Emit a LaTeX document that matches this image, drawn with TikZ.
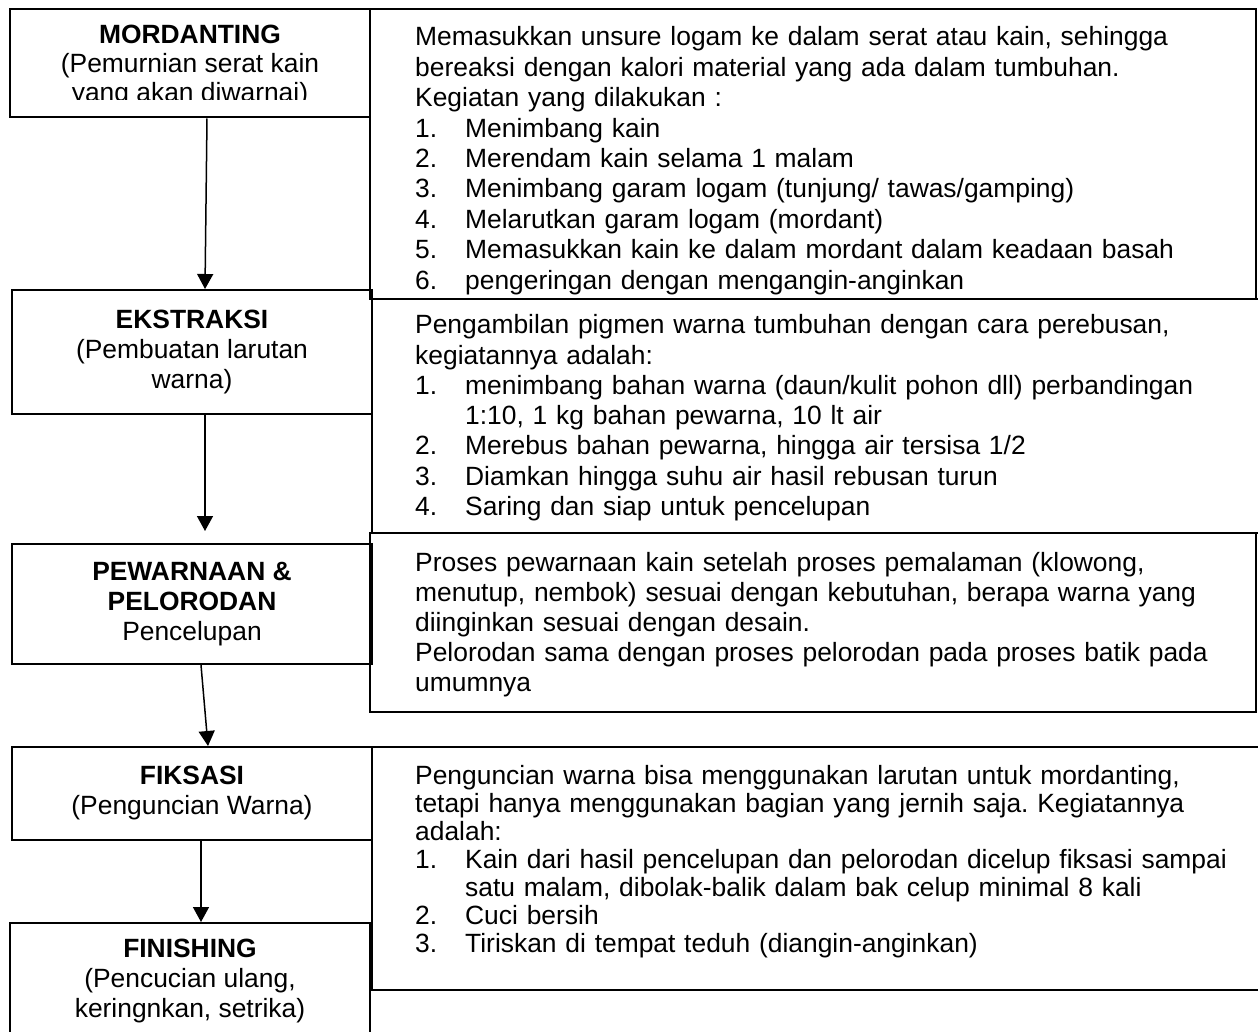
\documentclass[tikz,border=0pt]{standalone}
\usepackage{fontspec}
\setmainfont{Liberation Sans}
\usepackage{tikz}
\usetikzlibrary{arrows.meta,positioning,calc}

\newcommand{\itemnr}[1]{\makebox[50pt][l]{#1}}
\frenchspacing

\tikzset{
  stepbox/.style={draw,line width=2pt,align=center,minimum width=360pt,inner sep=0pt,
    font=\fontsize{26.4}{30}\selectfont},
  infobox/.style={draw,line width=2pt},
  infotext/.style={anchor=base west,align=left,inner sep=0pt,text width=840pt},
  flow/.style={-{Triangle[width=16pt,length=15pt]},line width=1.5pt}
}

\begin{document}
\begin{tikzpicture}[x=1pt,y=-1pt]
\useasboundingbox (0,0) rectangle (1258,1032);

% Right side boxes
\draw[infobox] (370,9) rectangle (1256,299);
\draw[infobox] (372,299) rectangle (1270,533);
\draw[infobox] (370,533) rectangle (1256,712);
\draw[infobox] (372,747) rectangle (1270,990);

% Steps
\node[stepbox,minimum height=108pt,text depth=0pt,font=\fontsize{26.4}{29}\selectfont] (mord) at (190,63.5)
  {\textbf{MORDANTING}\\(Pemurnian serat kain\\yang akan diwarnai)};
\fill[white] (11,100) rectangle (369,116);
\node[stepbox,minimum height=124pt] (ekstr) at (192,352)
  {\textbf{EKSTRAKSI}\\(Pembuatan larutan\\warna)};
\node[stepbox,minimum height=120pt] (warna) at (192,604)
  {\textbf{PEWARNAAN \&}\\\textbf{PELORODAN}\\Pencelupan};
\node[stepbox,minimum height=93pt] (fiks) at (192,793.5)
  {\textbf{FIKSASI}\\(Penguncian Warna)};
\node[stepbox,minimum height=117pt] (finish) at (190,981.5)
  {\textbf{FINISHING}\\(Pencucian ulang,\\keringnkan, setrika)};

% Flow arrows
\draw[flow] ([xshift=17pt]mord.south) -- ([xshift=13pt]ekstr.north);
\draw[flow] ([xshift=13pt]ekstr.south) -- ([xshift=13pt,yshift=12pt]warna.north);
\draw[flow] ([xshift=9pt]warna.south) -- ([xshift=16pt]fiks.north);
\draw[flow] ([xshift=9pt]fiks.south) -- ([xshift=11pt]finish.north);

% Descriptions
\node[infotext,font=\fontsize{26.4}{30.4}\selectfont] (mordtext) at (415,46)
  {Memasukkan unsure logam ke dalam serat atau kain, sehingga\\
   bereaksi dengan kalori material yang ada dalam tumbuhan.\\
   Kegiatan yang dilakukan :\\
   \itemnr{1.}Menimbang kain\\
   \itemnr{2.}Merendam kain selama 1 malam\\
   \itemnr{3.}Menimbang garam logam (tunjung/ tawas/gamping)\\
   \itemnr{4.}Melarutkan garam logam (mordant)\\
   \itemnr{5.}Memasukkan kain ke dalam mordant dalam keadaan basah\\
   \itemnr{6.}pengeringan dengan mengangin-anginkan};
\node[infotext,font=\fontsize{26.4}{30.2}\selectfont] (ekstrtext) at (415,334)
  {Pengambilan pigmen warna tumbuhan dengan cara perebusan,\\
   kegiatannya adalah:\\
   \itemnr{1.}menimbang bahan warna (daun/kulit pohon dll) perbandingan\\
   \hspace*{50pt}1:10, 1 kg bahan pewarna, 10 lt air\\
   \itemnr{2.}Merebus bahan pewarna, hingga air tersisa 1/2\\
   \itemnr{3.}Diamkan hingga suhu air hasil rebusan turun\\
   \itemnr{4.}Saring dan siap untuk pencelupan};
\node[infotext,font=\fontsize{26.4}{30}\selectfont] (warnatext) at (415,571)
  {Proses pewarnaan kain setelah proses pemalaman (klowong,\\
   menutup, nembok) sesuai dengan kebutuhan, berapa warna yang\\
   diinginkan sesuai dengan desain.\\
   Pelorodan sama dengan proses pelorodan pada proses batik pada\\
   umumnya};
\node[infotext,font=\fontsize{26.4}{28}\selectfont] (fikstext) at (415,784)
  {Penguncian warna bisa menggunakan larutan untuk mordanting,\\
   tetapi hanya menggunakan bagian yang jernih saja. Kegiatannya\\
   adalah:\\
   \itemnr{1.}Kain dari hasil pencelupan dan pelorodan dicelup fiksasi sampai\\
   \hspace*{50pt}satu malam, dibolak-balik dalam bak celup minimal 8 kali\\
   \itemnr{2.}Cuci bersih\\
   \itemnr{3.}Tiriskan di tempat teduh (diangin-anginkan)};

\end{tikzpicture}
\end{document}
